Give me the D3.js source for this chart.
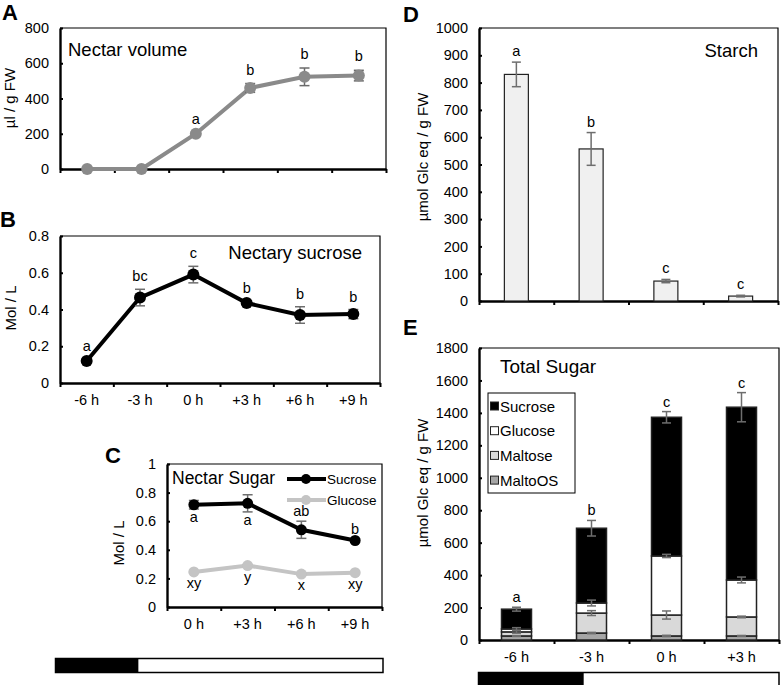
<!DOCTYPE html>
<html>
<head>
<meta charset="utf-8">
<script src="https://cdn.jsdelivr.net/npm/d3@7"></script>
<style>
  body { margin: 0; background: #fff; }
  svg text { font-family: "Liberation Sans", Arial, sans-serif; }
</style>
</head>
<body>
<svg id="fig" width="782" height="685"></svg>
<script>
// ---------- data ----------
var timesAB = ["-6 h", "-3 h", "0 h", "+3 h", "+6 h", "+9 h"];
var timesC = ["0 h", "+3 h", "+6 h", "+9 h"];
var timesDE = ["-6 h", "-3 h", "0 h", "+3 h"];

// A: nectar volume (µl / g FW)
var volMean = [0, 0, 200, 460, 523, 530];
var volErr = [0, 0, 5, 25, 50, 30];
var volSig = ["", "", "a", "b", "b", "b"];

// B: nectary sucrose (Mol / L)
var nySucMean = [0.12, 0.465, 0.59, 0.435, 0.37, 0.375];
var nySucErr = [0.01, 0.045, 0.045, 0.01, 0.045, 0.025];
var nySucSig = ["a", "bc", "c", "b", "b", "b"];

// C: nectar sugar (Mol / L)
var ncSucMean = [0.715, 0.725, 0.54, 0.465];
var ncSucErr = [0.03, 0.06, 0.06, 0.01];
var ncSucSig = ["a", "a", "ab", "b"];
var ncGlcMean = [0.245, 0.29, 0.23, 0.24];
var ncGlcErr = [0.005, 0.005, 0.005, 0.005];
var ncGlcSig = ["xy", "y", "x", "xy"];

// D: starch
var starchMean = [830, 557, 73, 18];
var starchErr = [45, 60, 6, 3];
var starchSig = ["a", "b", "c", "c"];

// E: total sugar, amount of each layer (bottom to top)
var sugarKeys = ["MaltoOS", "Maltose", "Glucose", "Sucrose"];
var maltoOS = [25, 43, 25, 25];
var maltose = [25, 123, 129, 117];
var glucose = [18, 62, 364, 228];
var sucrose = [122, 461, 855, 1065];
var maltoOSErr = [3, 4, 4, 3];
var maltoseErr = [8, 15, 25, 5];
var glucoseErr = [8, 18, 10, 18];
var sucroseErr = [12, 48, 35, 90];
var totalSig = ["a", "b", "c", "c"];

// tick values
var ticksA = [0, 200, 400, 600, 800];
var ticksB = [0, 0.2, 0.4, 0.6, 0.8];
var ticksC = [0, 0.2, 0.4, 0.6, 0.8, 1];
var ticksD = [0, 100, 200, 300, 400, 500, 600, 700, 800, 900, 1000];
var ticksE = [0, 200, 400, 600, 800, 1000, 1200, 1400, 1600, 1800];

// dark / light period bars (fraction of bar that is dark)
var darkFracLeft = 0.253;
var darkFracRight = 0.35;

var svg = d3.select("#fig");
var errCol = "#6e6e6e";
var tickFont = 14.5;

// frame with thick left/bottom axes and thin top/right box
function makeFrame(p, yDomain, yTicks, cats, xLabels) {
  var g = svg.append("g");
  var x = d3.scaleBand().domain(cats).range([p.x, p.x + p.w]);
  var xEdge = d3.scaleLinear().domain([0, cats.length]).range([p.x, p.x + p.w]);
  var y = d3.scaleLinear().domain(yDomain).range([p.y + p.h, p.y]);

  g.append("path")
    .attr("d", "M" + p.x + "," + p.y + "H" + (p.x + p.w) + "V" + (p.y + p.h))
    .attr("fill", "none").attr("stroke", "#000").attr("stroke-width", 1.2);

  g.append("g").attr("transform", "translate(" + p.x + ",0)")
    .call(d3.axisLeft(y).tickValues(yTicks).tickSize(-3).tickSizeOuter(0)
      .tickPadding(11).tickFormat(d3.format("~g")));

  g.append("g").attr("transform", "translate(0," + (p.y + p.h) + ")")
    .call(d3.axisBottom(xEdge).tickValues(d3.range(cats.length + 1))
      .tickSize(4).tickSizeOuter(0).tickFormat(""));

  if (xLabels) {
    var lab = g.append("g").attr("transform", "translate(0," + (p.y + p.h) + ")")
      .call(d3.axisBottom(x).tickSize(0).tickPadding(12));
    lab.select(".domain").remove();
  }
  g.selectAll(".domain").attr("stroke", "#000").attr("stroke-width", 2.4);
  g.selectAll(".tick line").attr("stroke", "#000").attr("stroke-width", 2);
  g.selectAll(".tick text").attr("font-size", tickFont).attr("fill", "#000")
    .attr("font-family", '"Liberation Sans", Arial, sans-serif');
  return { g: g, x: x, y: y };
}

function errBars(g, xs, y, means, errs, cap, col, w) {
  var eb = g.append("g").attr("stroke", col).attr("stroke-width", w || 1.5);
  means.forEach(function (m, i) {
    if (!errs[i]) return;
    var cx = xs[i];
    var y1 = y(m + errs[i]), y0 = y(m - errs[i]);
    eb.append("line").attr("x1", cx).attr("x2", cx).attr("y1", y1).attr("y2", y0);
    eb.append("line").attr("x1", cx - cap).attr("x2", cx + cap).attr("y1", y1).attr("y2", y1);
    eb.append("line").attr("x1", cx - cap).attr("x2", cx + cap).attr("y1", y0).attr("y2", y0);
  });
}

function sigText(g, xs, ys, labels) {
  g.append("g").selectAll("text").data(labels).enter().append("text")
    .attr("x", function (d, i) { return xs[i]; })
    .attr("y", function (d, i) { return ys[i]; })
    .attr("text-anchor", "middle").attr("font-size", 14.5).text(function (d) { return d; });
}

function lineSeries(f, cats, means, errs, col, errC, r) {
  var xs = cats.map(function (c) { return f.x(c) + f.x.bandwidth() / 2; });
  f.g.append("path").datum(means)
    .attr("fill", "none").attr("stroke", col).attr("stroke-width", 4)
    .attr("d", d3.line().x(function (d, i) { return xs[i]; }).y(function (d) { return f.y(d); }));
  errBars(f.g, xs, f.y, means, errs, 5, errC);
  f.g.append("g").selectAll("circle").data(means).enter().append("circle")
    .attr("cx", function (d, i) { return xs[i]; })
    .attr("cy", function (d) { return f.y(d); })
    .attr("r", r).attr("fill", col);
  return xs;
}

function panelLetter(t, x, y) {
  svg.append("text").attr("x", x).attr("y", y).attr("font-size", 22)
    .attr("font-weight", "bold").text(t);
}

function yTitle(t, x, y) {
  svg.append("text").attr("transform", "translate(" + x + "," + y + ") rotate(-90)")
    .attr("text-anchor", "middle").attr("font-size", 15).text(t);
}

// ---------- A ----------
var fA = makeFrame({ x: 60, y: 28, w: 326, h: 141 }, [0, 800], ticksA, timesAB, false);
var xsA = lineSeries(fA, timesAB, volMean, volErr, "#8a8a8a", "#6a6a6a", 6);
sigText(fA.g, xsA, volMean.map(function (m, i) { return fA.y(m + volErr[i]) - 9; }), volSig);
fA.g.append("text").attr("x", 68).attr("y", 56).attr("font-size", 18.5).text("Nectar volume");
panelLetter("A", 2, 20);
yTitle("µl / g FW", 15, 98);

// ---------- B ----------
var fB = makeFrame({ x: 60, y: 236, w: 320, h: 147 }, [0, 0.8], ticksB, timesAB, true);
var xsB = lineSeries(fB, timesAB, nySucMean, nySucErr, "#000", errCol, 6);
sigText(fB.g, xsB, nySucMean.map(function (m, i) { return fB.y(m + nySucErr[i]) - 8; }), nySucSig);
fB.g.append("text").attr("x", 362).attr("y", 259).attr("text-anchor", "end")
  .attr("font-size", 18.5).text("Nectary sucrose");
panelLetter("B", 0, 227);
yTitle("Mol / L", 16, 308);

// ---------- C ----------
var fC = makeFrame({ x: 167, y: 464, w: 215, h: 143 }, [0, 1], ticksC, timesC, true);
var xsC = lineSeries(fC, timesC, ncGlcMean, ncGlcErr, "#c4c4c4", "#aaaaaa", 5.5);
lineSeries(fC, timesC, ncSucMean, ncSucErr, "#000", errCol, 5.5);
// sucrose letters: first two below, last two above
sigText(fC.g, xsC, ncSucMean.map(function (m, i) {
  return i < 2 ? fC.y(m - ncSucErr[i]) + 13 : fC.y(m + ncSucErr[i]) - 5;
}), ncSucSig);
sigText(fC.g, xsC, ncGlcMean.map(function (m) { return fC.y(m) + 16; }), ncGlcSig);
fC.g.append("text").attr("x", 172).attr("y", 484).attr("font-size", 17.5).text("Nectar Sugar");
// legend
[["Sucrose", "#000", 479], ["Glucose", "#c4c4c4", 500]].forEach(function (L) {
  fC.g.append("line").attr("x1", 287).attr("x2", 326).attr("y1", L[2]).attr("y2", L[2])
    .attr("stroke", L[1]).attr("stroke-width", 4);
  fC.g.append("circle").attr("cx", 306).attr("cy", L[2]).attr("r", 5).attr("fill", L[1]);
  fC.g.append("text").attr("x", 327).attr("y", L[2] + 4.5).attr("font-size", 13.5).text(L[0]);
});
panelLetter("C", 105, 463);
yTitle("Mol / L", 124, 543);

// ---------- D ----------
var fD = makeFrame({ x: 479, y: 28, w: 299, h: 273 }, [0, 1000], ticksD, timesDE, false);
var bwD = 24;
var xsD = timesDE.map(function (c) { return fD.x(c) + fD.x.bandwidth() / 2; });
fD.g.append("g").selectAll("rect").data(starchMean).enter().append("rect")
  .attr("x", function (d, i) { return xsD[i] - bwD / 2; })
  .attr("y", function (d) { return fD.y(d); })
  .attr("width", bwD)
  .attr("height", function (d) { return fD.y(0) - fD.y(d); })
  .attr("fill", "#f0f0f0").attr("stroke", "#222").attr("stroke-width", 1.2);
errBars(fD.g, xsD, fD.y, starchMean, starchErr, 4.5, errCol);
sigText(fD.g, xsD, starchMean.map(function (m, i) { return fD.y(m + starchErr[i]) - 6; }), starchSig);
fD.g.append("text").attr("x", 758).attr("y", 57).attr("text-anchor", "end")
  .attr("font-size", 18.5).text("Starch");
panelLetter("D", 403, 22);
yTitle("µmol Glc eq / g FW", 428, 157);

// ---------- E ----------
var fE = makeFrame({ x: 479, y: 348, w: 300, h: 292 }, [0, 1800], ticksE, timesDE, true);
var rowsE = timesDE.map(function (t, i) {
  return { t: t, MaltoOS: maltoOS[i], Maltose: maltose[i], Glucose: glucose[i], Sucrose: sucrose[i] };
});
var stackE = d3.stack().keys(sugarKeys)(rowsE);
var fillE = { MaltoOS: "#a6a6a6", Maltose: "#d9d9d9", Glucose: "#ffffff", Sucrose: "#000000" };
var errE = { MaltoOS: maltoOSErr, Maltose: maltoseErr, Glucose: glucoseErr, Sucrose: sucroseErr };
var bwE = 30;
var xsE = timesDE.map(function (c) { return fE.x(c) + fE.x.bandwidth() / 2; });
stackE.forEach(function (layer) {
  fE.g.append("g").selectAll("rect").data(layer).enter().append("rect")
    .attr("x", function (d, i) { return xsE[i] - bwE / 2; })
    .attr("y", function (d) { return fE.y(d[1]); })
    .attr("width", bwE)
    .attr("height", function (d) { return fE.y(d[0]) - fE.y(d[1]); })
    .attr("fill", fillE[layer.key]).attr("stroke", "#222").attr("stroke-width", 1.5);
});
stackE.forEach(function (layer) {
  errBars(fE.g, xsE, fE.y, layer.map(function (d) { return d[1]; }), errE[layer.key], 4.5, errCol);
});
var topE = stackE[stackE.length - 1];
sigText(fE.g, xsE, topE.map(function (d, i) { return fE.y(d[1] + sucroseErr[i]) - 5; }), totalSig);
fE.g.append("text").attr("x", 500).attr("y", 373).attr("font-size", 19).text("Total Sugar");
// legend box
var legE = fE.g.append("g");
legE.append("rect").attr("x", 488).attr("y", 393).attr("width", 87).attr("height", 100)
  .attr("fill", "#fff").attr("stroke", "#000").attr("stroke-width", 1);
sugarKeys.slice().reverse().forEach(function (k, i) {
  var cy = 406 + i * 24.7;
  legE.append("rect").attr("x", 490.5).attr("y", cy - 4).attr("width", 8).attr("height", 8)
    .attr("fill", fillE[k]).attr("stroke", "#222").attr("stroke-width", 1);
  legE.append("text").attr("x", 500).attr("y", cy + 5.5).attr("font-size", 15).text(k);
});
panelLetter("E", 403, 335);
yTitle("µmol  Glc eq / g FW", 428, 483);

// ---------- light / dark bars ----------
function dayBar(x0, x1, y0, h, frac) {
  var s = d3.scaleLinear().domain([0, 1]).range([x0, x1]);
  svg.append("rect").attr("x", s(0)).attr("y", y0).attr("width", s(1) - s(0)).attr("height", h)
    .attr("fill", "#fff").attr("stroke", "#000").attr("stroke-width", 1.5);
  svg.append("rect").attr("x", s(0)).attr("y", y0).attr("width", s(frac) - s(0)).attr("height", h)
    .attr("fill", "#000");
}
dayBar(55.5, 383, 658.5, 14, darkFracLeft);
dayBar(478.5, 779, 672.5, 14, darkFracRight);
</script>
</body>
</html>
